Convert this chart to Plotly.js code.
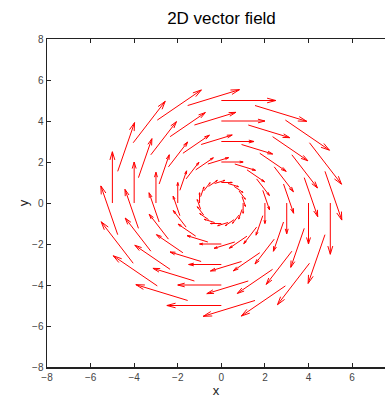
<!DOCTYPE html>
<html>
<head>
<meta charset="utf-8">
<script src="https://cdn.plot.ly/plotly-3.0.1.min.js"></script>
<style>html,body{margin:0;padding:0;overflow:hidden;background:#fff;}</style>
</head>
<body>
<div id="chart" style="width:385px;height:398px;"></div>
<script>
// Tail positions of the arrows: polar grid of rings and angles
var radii = [1, 2, 3, 4, 5];
var anglesDeg = [0, 18, 36, 54, 72, 90, 108, 126, 144, 162,
                 180, 198, 216, 234, 252, 270, 288, 306, 324, 342];
// Rotational field: u = y, v = -x, drawn with the quiver's scale
var arrowScale = 0.5;
var xTicks = [-8, -6, -4, -2, 0, 2, 4, 6];
var yTicks = [-8, -6, -4, -2, 0, 2, 4, 6, 8];

var headLen = 0.16, headHalf = 0.045;
var lx = [], ly = [];
radii.forEach(function (r) {
  anglesDeg.forEach(function (a) {
    var t = a * Math.PI / 180;
    var x = r * Math.cos(t), y = r * Math.sin(t);
    var u = y * arrowScale, v = -x * arrowScale;
    var tx = x + u, ty = y + v;
    var bx = tx - headLen * u, by = ty - headLen * v;
    lx.push(x, tx, null, bx - headHalf * v, tx, bx + headHalf * v, null);
    ly.push(y, ty, null, by + headHalf * u, ty, by - headHalf * u, null);
  });
});

var fontFam = '"Liberation Sans", Arial, sans-serif';
var data = [{
  type: 'scatter', mode: 'lines', x: lx, y: ly,
  line: {color: '#ff0000', width: 1}, hoverinfo: 'skip', connectgaps: false
}];
var layout = {
  width: 385, height: 398,
  margin: {l: 47, r: 0, t: 39, b: 31},
  showlegend: false,
  paper_bgcolor: '#fff', plot_bgcolor: '#fff',
  title: {text: '2D vector field', x: 221.5 / 385, xanchor: 'center',
          y: 1 - 18 / 398, yanchor: 'middle', yref: 'container',
          font: {family: fontFam, size: 17, color: '#000'}},
  xaxis: {range: [-8, 7.51], tickvals: xTicks, ticks: 'inside', ticklen: 4,
          tickcolor: '#222', showline: true, linecolor: '#222', linewidth: 1.5,
          mirror: 'ticks', showgrid: false, zeroline: false,
          tickfont: {family: fontFam, size: 10, color: '#444'},
          title: {text: 'x', standoff: 9, font: {family: fontFam, size: 13, color: '#222'}}},
  yaxis: {range: [-8, 8], tickvals: yTicks, ticks: 'inside', ticklen: 4,
          tickcolor: '#222', showline: true, linecolor: '#222', linewidth: 1.5,
          mirror: false, showgrid: false, zeroline: false,
          tickfont: {family: fontFam, size: 10, color: '#444'},
          title: {text: 'y', standoff: 0, font: {family: fontFam, size: 13, color: '#222'}}}
};
Plotly.newPlot('chart', data, layout, {displayModeBar: false, staticPlot: true});
</script>
</body>
</html>
